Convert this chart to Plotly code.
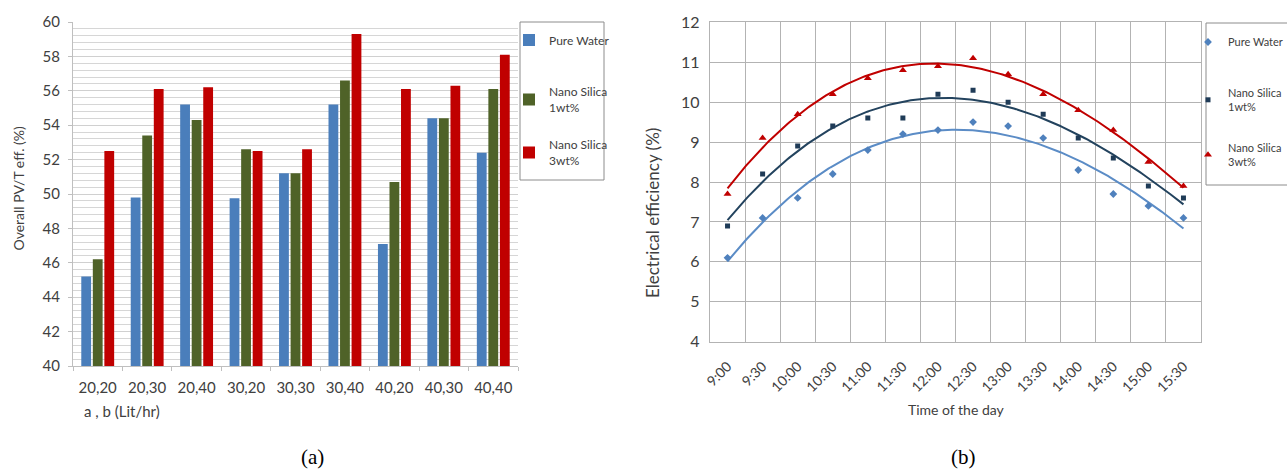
import numpy as np
import plotly.graph_objects as go

# ---- (a) overall PV/T efficiency per flow-rate pair ----
flow_pairs = ["20,20", "20,30", "20,40", "30,20", "30,30", "30,40", "40,20", "40,30", "40,40"]
overall_pure = [45.2, 49.8, 55.2, 49.75, 51.2, 55.2, 47.1, 54.4, 52.4]
overall_1wt = [46.2, 53.4, 54.3, 52.6, 51.2, 56.6, 50.7, 54.4, 56.1]
overall_3wt = [52.5, 56.1, 56.2, 52.5, 52.6, 59.3, 56.1, 56.3, 58.1]

# ---- (b) electrical efficiency over the day ----
times = ["9:00", "9:30", "10:00", "10:30", "11:00", "11:30", "12:00",
         "12:30", "13:00", "13:30", "14:00", "14:30", "15:00", "15:30"]
elec_pure = [6.1, 7.1, 7.6, 8.2, 8.8, 9.2, 9.3, 9.5, 9.4, 9.1, 8.3, 7.7, 7.4, 7.1]
elec_1wt = [6.9, 8.2, 8.9, 9.4, 9.6, 9.6, 10.2, 10.3, 10.0, 9.7, 9.1, 8.6, 7.9, 7.6]
elec_3wt = [7.7, 9.1, 9.7, 10.2, 10.6, 10.8, 10.9, 11.1, 10.7, 10.2, 9.8, 9.3, 8.5, 7.9]

W, H = 1287, 473
FONT = "Lato, 'Open Sans', sans-serif"
TICK = "#404040"
SERIF = "'Liberation Serif', 'Times New Roman', serif"


def px_x(p):
    return p / W


def px_y(p):
    return 1 - p / H


fig = go.Figure()

# one small legend per entry so every entry sits at its own height
bar_series = [
    ("Pure Water", overall_pure, "#4a7ebb", "legend", 40),
    ("Nano Silica<br>1wt%", overall_1wt, "#4f6228", "legend2", 100),
    ("Nano Silica<br>3wt%", overall_3wt, "#c00000", "legend3", 153),
]
for name, vals, col, leg, _ in bar_series:
    fig.add_trace(go.Bar(
        x=flow_pairs, y=vals, name=name, marker=dict(color=col, line=dict(width=0)),
        xaxis="x", yaxis="y", legend=leg,
    ))

xs = np.arange(len(times))
xfine = np.linspace(0, len(times) - 1, 200)
line_series = [
    ("Pure Water", elec_pure, "#4f81bd", "#5b8cc6", "diamond", 6, "legend4", 42),
    ("Nano Silica<br>1wt%", elec_1wt, "#1f3b57", "#23435e", "square", 5, "legend5", 100),
    ("Nano Silica<br>3wt%", elec_3wt, "#c00000", "#c00000", "triangle-up", 7, "legend6", 155),
]
for name, vals, mcol, lcol, sym, sz, leg, _ in line_series:
    # polynomial trend through the measured points
    coef = np.polyfit(xs, vals, 3)
    fig.add_trace(go.Scatter(
        x=xfine, y=np.polyval(coef, xfine), mode="lines",
        line=dict(color=lcol, width=2), showlegend=False, hoverinfo="skip",
        xaxis="x2", yaxis="y2",
    ))
    fig.add_trace(go.Scatter(
        x=xs, y=vals, mode="markers", name=name,
        marker=dict(color=mcol, symbol=sym, size=sz),
        xaxis="x2", yaxis="y2", legend=leg,
    ))

legends = {}
for _, _, _, leg, ymid in bar_series:
    legends[leg] = dict(
        x=px_x(509), y=px_y(ymid), xanchor="left", yanchor="middle",
        bgcolor="rgba(0,0,0,0)", borderwidth=0, itemwidth=30,
        font=dict(size=12, color="#404040"),
    )
for *_, leg, ymid in line_series:
    legends[leg] = dict(
        x=px_x(1188), y=px_y(ymid), xanchor="left", yanchor="middle",
        bgcolor="rgba(0,0,0,0)", borderwidth=0, itemwidth=30,
        font=dict(size=11, color="#404040"),
    )

fig.update_layout(
    width=W, height=H,
    margin=dict(l=0, r=0, t=0, b=0, autoexpand=False),
    paper_bgcolor="white", plot_bgcolor="white",
    font=dict(family=FONT, color=TICK, size=13),
    barmode="group", bargap=0.3, bargroupgap=0.15,
    showlegend=True,
    xaxis=dict(
        domain=[px_x(73), px_x(518)], anchor="y",
        tickson="boundaries", ticks="outside", ticklen=4, tickcolor="#bfbfbf",
        showline=True, linecolor="#bfbfbf", linewidth=1,
        tickfont=dict(size=15, color=TICK), automargin=False,
        showgrid=False, ticklabelstandoff=8,
    ),
    yaxis=dict(
        domain=[px_y(366), px_y(22)], anchor="x",
        range=[40, 60], dtick=2, tick0=40,
        ticks="outside", ticklen=4, tickcolor="#bfbfbf",
        showline=True, linecolor="#bfbfbf", linewidth=1,
        gridcolor="#d0d0d0", gridwidth=1,
        minor=dict(dtick=0.4, tick0=40, showgrid=True, gridcolor="#d6d6d6", gridwidth=1),
        tickfont=dict(size=15, color=TICK), automargin=False, zeroline=False,
        ticklabelstandoff=5,
    ),
    xaxis2=dict(
        domain=[px_x(710), px_x(1201)], anchor="y2",
        range=[-0.5, len(times) - 0.5],
        tickvals=list(xs), ticktext=times, tickangle=-45,
        ticks="", showgrid=False, zeroline=False,
        minor=dict(tick0=-0.5, dtick=1, showgrid=True, gridcolor="#b3b3b3", gridwidth=1.3),
        showline=True, mirror=True, linecolor="#b3b3b3", linewidth=1.3,
        tickfont=dict(size=14, color=TICK), automargin=False,
        ticklabelstandoff=10,
    ),
    yaxis2=dict(
        domain=[px_y(341.7), px_y(22.3)], anchor="x2",
        range=[4, 12], dtick=1, tick0=4,
        showline=True, mirror=True, linecolor="#b3b3b3", linewidth=1.3,
        gridcolor="#b3b3b3", gridwidth=1.3, zeroline=False, ticks="",
        tickfont=dict(size=16, color=TICK), automargin=False,
        ticklabelstandoff=6,
    ),
    **legends,
)

# legend frames
fig.add_shape(type="rect", xref="paper", yref="paper",
              x0=px_x(520), x1=px_x(604), y0=px_y(180), y1=px_y(22),
              line=dict(color="#8c8c8c", width=1), layer="below")
fig.add_shape(type="rect", xref="paper", yref="paper",
              x0=px_x(1206), x1=px_x(1310), y0=px_y(185), y1=px_y(23),
              line=dict(color="#8c8c8c", width=1), layer="below")

annotations = [
    dict(text="Overall PV/T eff. (%)", x=px_x(17.5), y=px_y(188), textangle=-90,
         font=dict(size=14, color="#404040")),
    dict(text="a , b (Lit/hr)", x=px_x(82), y=px_y(411), xanchor="left",
         font=dict(size=15, color="#404040")),
    dict(text="Electrical efficiency (%)", x=px_x(652), y=px_y(213), textangle=-90,
         font=dict(size=17, color="#404040")),
    dict(text="Time of the day", x=px_x(956), y=px_y(409),
         font=dict(size=14, color="#404040")),
    dict(text="(a)", x=px_x(312), y=px_y(457),
         font=dict(size=21, color="black", family=SERIF)),
    dict(text="(b)", x=px_x(963), y=px_y(457),
         font=dict(size=21, color="black", family=SERIF)),
]
for a in annotations:
    a.update(xref="paper", yref="paper", showarrow=False)
    a.setdefault("xanchor", "center")
    a.setdefault("yanchor", "middle")
fig.update_layout(annotations=annotations)

fig.write_html("out.html")
